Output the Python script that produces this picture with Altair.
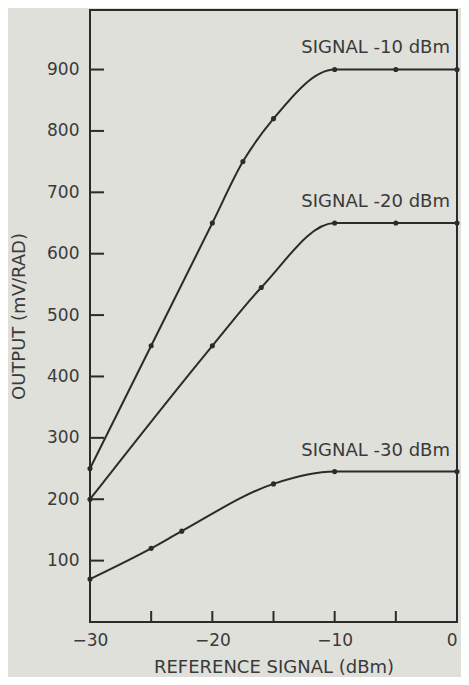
import altair as alt
import pandas as pd

# Series data
x_m10 = [-30, -25, -20, -17.5, -15, -10, -5, 0]
y_m10 = [250, 450, 650, 750, 820, 900, 900, 900]
x_m20 = [-30, -20, -16, -10, -5, 0]
y_m20 = [200, 450, 545, 650, 650, 650]
x_m30 = [-30, -25, -22.5, -15, -10, 0]
y_m30 = [70, 120, 148, 225, 245, 245]

series_names = ["SIGNAL -10 dBm", "SIGNAL -20 dBm", "SIGNAL -30 dBm"]
y_ticks = [100, 200, 300, 400, 500, 600, 700, 800, 900]
x_labels = [-30, -20, -10, 0]
x_minor = [-25, -20, -15, -10, -5]

FONT = "DejaVu Sans"
INK = "#2b2b2b"
TXT = "#3a3a3a"
BG = "#dfe0da"
FS_TICK = 17
FS = 18

rows = []
for name, xs, ys in zip(series_names, [x_m10, x_m20, x_m30], [y_m10, y_m20, y_m30]):
    for xv, yv in zip(xs, ys):
        rows.append({"series": name, "x": xv, "y": yv})
df = pd.DataFrame(rows)

lab = pd.DataFrame({
    "series": series_names,
    "x": [0, 0, 0],
    "y": [y_m10[-1] + 35, y_m20[-1] + 34, y_m30[-1] + 33],
})

W, H = 367, 612
xs = alt.Scale(domain=[-30, 0], nice=False, zero=False)
ys = alt.Scale(domain=[0, 997], nice=False, zero=False)

xenc = alt.X("x:Q", scale=xs, title="REFERENCE SIGNAL (dBm)",
             axis=alt.Axis(values=x_labels, ticks=False, tickSize=0, grid=False,
                           domain=False, labelPadding=10, titlePadding=10,
                           labelAlign={"condition": {"test": "datum.value == 0", "value": "right"},
                                       "value": "center"},
                           labelFontSize=FS_TICK, titleFontSize=FS, labelFont=FONT,
                           titleFont=FONT, labelColor=TXT, titleColor=TXT,
                           titleFontWeight="normal", labelFlush=False))
yenc = alt.Y("y:Q", scale=ys, title="OUTPUT (mV/RAD)",
             axis=alt.Axis(values=y_ticks, ticks=False, tickSize=0, grid=False,
                           domain=False, labelPadding=11, titlePadding=18,
                           labelFontSize=FS_TICK, titleFontSize=FS, labelFont=FONT,
                           titleFont=FONT, labelColor=TXT, titleColor=TXT,
                           titleFontWeight="normal"))

lines = alt.Chart(df).mark_line(interpolate="monotone", color=INK, strokeWidth=2).encode(
    x=xenc, y=yenc, detail="series:N")
pts = alt.Chart(df).mark_point(filled=True, color=INK, size=26, opacity=1).encode(
    x="x:Q", y="y:Q")

yt = alt.Chart(pd.DataFrame({"v": y_ticks})).mark_rule(color=INK, strokeWidth=2).encode(
    y=alt.Y("v:Q", scale=ys), x=alt.value(0), x2=alt.value(14))
xt = alt.Chart(pd.DataFrame({"v": x_minor})).mark_rule(color=INK, strokeWidth=2).encode(
    x=alt.X("v:Q", scale=xs), y=alt.value(H), y2=alt.value(H - 11))

texts = alt.Chart(lab).mark_text(align="right", baseline="middle", dx=-7,
                                  font=FONT, fontSize=FS, color=TXT).encode(
    x="x:Q", y="y:Q", text="series:N")

chart = alt.layer(lines, pts, yt, xt, texts).properties(
    width=W, height=H, background=BG,
    padding={"left": 82, "top": 2, "right": 4, "bottom": 55},
    autosize=alt.AutoSizeParams(type="none"),
).configure_view(stroke=INK, strokeWidth=2)

chart.save("out.html", embed_options={"renderer": "svg", "actions": False})
